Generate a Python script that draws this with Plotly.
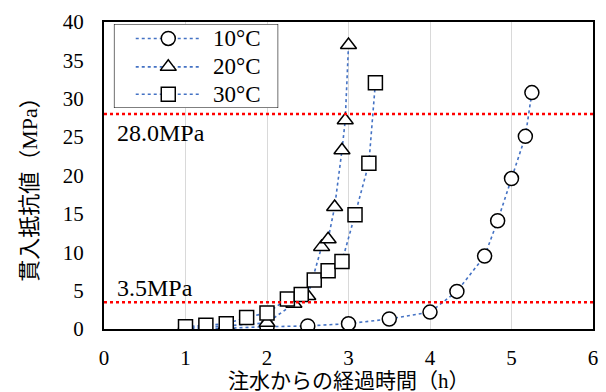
import plotly.graph_objects as go

# Elapsed time since water injection (h) and penetration resistance (MPa)
t_10 = [1.0, 1.5, 2.0, 2.5, 3.0, 3.5, 4.0, 4.33, 4.67, 4.83, 5.0, 5.17, 5.25]
v_10 = [0.1, 0.1, 0.3, 0.4, 0.7, 1.3, 2.2, 4.9, 9.5, 14.1, 19.6, 25.1, 30.8]

t_20 = [1.0, 1.5, 2.0, 2.33, 2.5, 2.67, 2.75, 2.83, 2.92, 2.96, 3.0]
v_20 = [0.2, 0.4, 0.8, 3.3, 4.3, 10.7, 11.7, 15.9, 23.3, 27.2, 37.0]

t_30 = [1.0, 1.25, 1.5, 1.75, 2.0, 2.25, 2.42, 2.58, 2.75, 2.92, 3.08, 3.25, 3.33]
v_30 = [0.3, 0.5, 0.7, 1.5, 2.1, 3.9, 4.5, 6.4, 7.6, 8.8, 14.9, 21.6, 32.1]

series_names = ["10\u00b0C", "20\u00b0C", "30\u00b0C"]
series_symbols = ["circle", "triangle-up", "square"]
ref_levels = [28.0, 3.5]
ref_labels = ["28.0MPa", "3.5MPa"]
x_ticks = [0, 1, 2, 3, 4, 5, 6]
y_ticks = [0, 5, 10, 15, 20, 25, 30, 35, 40]
x_title = "注水からの経過時間（h）"
y_title = "貫入抵抗値（MPa）"

SERIF = "Liberation Serif, Times New Roman, Noto Sans CJK JP, serif"
LINE_BLUE = "#4472C4"
LINE_STYLE = dict(color=LINE_BLUE, width=1.6, dash="dot")


def marker_style(sym):
    return dict(symbol=sym, size=14, color="white",
                line=dict(color="black", width=1.5))


fig = go.Figure()

# data series
for t, v, name, sym in zip([t_10, t_20, t_30], [v_10, v_20, v_30],
                           series_names, series_symbols):
    fig.add_trace(go.Scatter(
        x=t, y=v, name=name, mode="lines+markers", showlegend=False,
        line=LINE_STYLE, marker=marker_style(sym),
    ))

# reference strength levels
ref_label_y = [0.638, 0.134]
for lvl, lab, ly in zip(ref_levels, ref_labels, ref_label_y):
    fig.add_shape(type="line", xref="paper", x0=0, x1=1, yref="y", y0=lvl, y1=lvl,
                  line=dict(color="red", width=2.5, dash="dot"))
    fig.add_annotation(xref="paper", x=0.022, yref="paper", y=ly, text=lab,
                       showarrow=False, xanchor="left", yanchor="middle",
                       font=dict(family=SERIF, size=24, color="black"))

# legend panel drawn on its own small subplot (white box, then entries)
fig.add_trace(go.Scatter(x=[0, 1, 1, 0, 0], y=[0, 0, 1, 1, 0], mode="lines",
                         fill="toself", fillcolor="white",
                         line=dict(color="black", width=1.2),
                         xaxis="x2", yaxis="y2", showlegend=False, hoverinfo="skip",
                         cliponaxis=False))
leg_rows = [0.828, 0.49, 0.163]
leg_line_x = [0.133, 0.53]
leg_mark_x = 0.331
leg_text_x = 0.59
for row, name, sym in zip(leg_rows, series_names, series_symbols):
    fig.add_trace(go.Scatter(x=leg_line_x, y=[row, row], mode="lines", line=LINE_STYLE,
                             xaxis="x2", yaxis="y2", showlegend=False, hoverinfo="skip"))
    fig.add_trace(go.Scatter(x=[leg_mark_x], y=[row], mode="markers", marker=marker_style(sym),
                             xaxis="x2", yaxis="y2", showlegend=False, hoverinfo="skip"))
    fig.add_annotation(xref="x2", yref="y2", x=leg_text_x, y=row, text=name, showarrow=False,
                       xanchor="left", yanchor="middle",
                       font=dict(family=SERIF, size=23, color="black"))

# axis titles
fig.add_annotation(xref="paper", yref="paper", x=0.502, y=-0.169, text=x_title,
                   showarrow=False, xanchor="center", yanchor="middle",
                   font=dict(family=SERIF, size=21, color="black"))
fig.add_annotation(xref="paper", yref="paper", x=-0.154, y=0.472, text=y_title,
                   showarrow=False, xanchor="center", yanchor="middle", textangle=-90,
                   font=dict(family=SERIF, size=22, color="black"))

fig.update_layout(
    width=606, height=392,
    margin=dict(l=104, r=8, t=22, b=63),
    paper_bgcolor="white", plot_bgcolor="white",
    font=dict(family=SERIF, size=21, color="black"),
    showlegend=False,
    xaxis=dict(range=[0, 6], tickvals=x_ticks, showgrid=True, gridcolor="#d9d9d9",
               gridwidth=1, zeroline=False, showline=True, linecolor="black",
               linewidth=2, mirror=True, ticks="", ticklabelstandoff=9,
               tickfont=dict(family=SERIF, size=21)),
    yaxis=dict(range=[0, 40], tickvals=y_ticks, showgrid=False, zeroline=False,
               showline=True, linecolor="black", linewidth=2, mirror=True, ticks="",
               ticklabelstandoff=14, tickfont=dict(family=SERIF, size=21)),
    xaxis2=dict(domain=[0.0202, 0.3563], range=[0, 1], anchor="y2", visible=False,
                fixedrange=True),
    yaxis2=dict(domain=[0.7199, 0.9935], range=[0, 1], anchor="x2", visible=False,
                fixedrange=True),
)

fig.write_html("out.html")
